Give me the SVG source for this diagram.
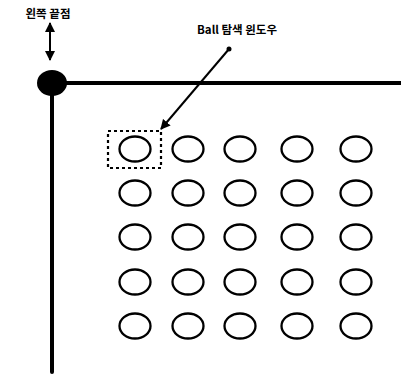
<svg xmlns="http://www.w3.org/2000/svg" width="401" height="376" viewBox="0 0 401 376">
<defs>
<style>
.lbl{font-family:"Noto Sans CJK KR","Liberation Sans",sans-serif;font-weight:bold;font-size:11.5px;fill:#000}
.ball{fill:none;stroke:#000;stroke-width:2.3}
.axis{stroke:#000;stroke-width:4;fill:none;stroke-linecap:round}
</style>
<marker id="ah" viewBox="0 0 10 10" refX="9" refY="5" markerWidth="5" markerHeight="5" orient="auto-start-reverse">
<path d="M0,0 L10,5 L0,10 z" fill="#000"/>
</marker>
</defs>
<rect width="401" height="376" fill="#fff"/>
<g id="axes">
<line class="axis" x1="52" y1="83" x2="401" y2="83"/>
<line class="axis" x1="52" y1="83" x2="52" y2="372"/>
<ellipse cx="52" cy="83" rx="15" ry="13" fill="#000"/>
</g>
<g id="label-left">
<text class="lbl" x="48" y="18" text-anchor="middle">왼쪽 끝점</text>
</g>
<g id="label-window">
<text class="lbl" x="237" y="34" text-anchor="middle">Ball 탐색 윈도우</text>
</g>
<g id="window">
<rect x="108" y="131" width="53" height="37" fill="none" stroke="#000" stroke-width="2.2" stroke-dasharray="3,3"/>
</g>
<g id="connectors">
<line x1="50" y1="23" x2="50" y2="60" stroke="#000" stroke-width="2" marker-start="url(#ah)" marker-end="url(#ah)"/>
<line x1="229" y1="49" x2="161" y2="129" stroke="#000" stroke-width="2" marker-end="url(#ah)"/>
<circle cx="229" cy="49" r="2.5" fill="#000"/>
</g>
<g id="balls">
<ellipse class="ball" cx="135" cy="149" rx="15.5" ry="12.5"/>
<ellipse class="ball" cx="188" cy="149" rx="15.5" ry="12.5"/>
<ellipse class="ball" cx="240" cy="149" rx="15.5" ry="12.5"/>
<ellipse class="ball" cx="297" cy="149" rx="15.5" ry="12.5"/>
<ellipse class="ball" cx="356" cy="149" rx="15.5" ry="12.5"/>
<ellipse class="ball" cx="135" cy="193" rx="15.5" ry="12.5"/>
<ellipse class="ball" cx="188" cy="193" rx="15.5" ry="12.5"/>
<ellipse class="ball" cx="240" cy="193" rx="15.5" ry="12.5"/>
<ellipse class="ball" cx="297" cy="193" rx="15.5" ry="12.5"/>
<ellipse class="ball" cx="356" cy="193" rx="15.5" ry="12.5"/>
<ellipse class="ball" cx="135" cy="237" rx="15.5" ry="12.5"/>
<ellipse class="ball" cx="188" cy="237" rx="15.5" ry="12.5"/>
<ellipse class="ball" cx="240" cy="237" rx="15.5" ry="12.5"/>
<ellipse class="ball" cx="297" cy="237" rx="15.5" ry="12.5"/>
<ellipse class="ball" cx="356" cy="237" rx="15.5" ry="12.5"/>
<ellipse class="ball" cx="135" cy="282" rx="15.5" ry="12.5"/>
<ellipse class="ball" cx="188" cy="282" rx="15.5" ry="12.5"/>
<ellipse class="ball" cx="240" cy="282" rx="15.5" ry="12.5"/>
<ellipse class="ball" cx="297" cy="282" rx="15.5" ry="12.5"/>
<ellipse class="ball" cx="356" cy="282" rx="15.5" ry="12.5"/>
<ellipse class="ball" cx="135" cy="326" rx="15.5" ry="12.5"/>
<ellipse class="ball" cx="188" cy="326" rx="15.5" ry="12.5"/>
<ellipse class="ball" cx="240" cy="326" rx="15.5" ry="12.5"/>
<ellipse class="ball" cx="297" cy="326" rx="15.5" ry="12.5"/>
<ellipse class="ball" cx="356" cy="326" rx="15.5" ry="12.5"/>
</g>
</svg>
